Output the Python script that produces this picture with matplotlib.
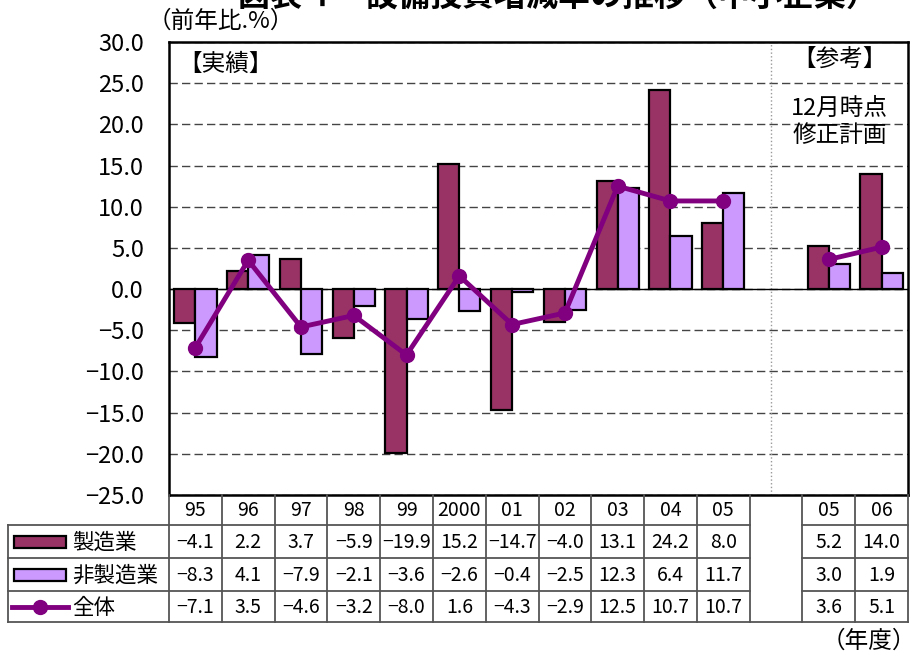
import matplotlib.pyplot as plt
import matplotlib.transforms as mtransforms
from matplotlib.lines import Line2D
from matplotlib.patches import Rectangle

plt.rcParams['font.family'] = ['Noto Sans CJK JP', 'DejaVu Sans']

# data
years_act = ["95", "96", "97", "98", "99", "2000", "01", "02", "03", "04", "05"]
years_ref = ["05", "06"]
mfg_act = [-4.1, 2.2, 3.7, -5.9, -19.9, 15.2, -14.7, -4.0, 13.1, 24.2, 8.0]
non_act = [-8.3, 4.1, -7.9, -2.1, -3.6, -2.6, -0.4, -2.5, 12.3, 6.4, 11.7]
all_act = [-7.1, 3.5, -4.6, -3.2, -8.0, 1.6, -4.3, -2.9, 12.5, 10.7, 10.7]
mfg_ref = [5.2, 14.0]
non_ref = [3.0, 1.9]
all_ref = [3.6, 5.1]
series_names = ["製造業", "非製造業", "全体"]

C_MFG = "#993366"
C_NON = "#CC99FF"
C_ALL = "#800080"

W, H = 916, 657
fig = plt.figure(figsize=(W / 100, H / 100), dpi=100)


def fx(px):
    return px / W


def fy(py):
    return 1 - py / H


ax = fig.add_axes([fx(169), fy(495), fx(908) - fx(169), fy(42) - fy(495)])

x_act = list(range(len(years_act)))
x_ref = [len(years_act) + 1 + i for i in range(len(years_ref))]
n_slots = x_ref[-1] + 1
bw = 0.4

for xs, m, n in [(x_act, mfg_act, non_act), (x_ref, mfg_ref, non_ref)]:
    ax.bar([x - 0.2 for x in xs], m, bw, color=C_MFG, edgecolor="black", lw=1.6, zorder=3)
    ax.bar([x + 0.2 for x in xs], n, bw, color=C_NON, edgecolor="black", lw=1.6, zorder=3)
ax.plot(x_act, all_act, color=C_ALL, lw=3.5, marker="o", ms=10, zorder=4)
ax.plot(x_ref, all_ref, color=C_ALL, lw=3.5, marker="o", ms=10, zorder=4)

ax.set_xlim(-0.5, n_slots - 0.5)
ax.set_ylim(-25, 30)
ax.set_yticks(range(-25, 31, 5))
ax.set_yticklabels([f"{v:.1f}".replace("-", "−") for v in range(-25, 31, 5)], fontsize=17)
ax.tick_params(axis="y", length=0, pad=18)
ax.set_xticks([])
ax.yaxis.grid(True, ls=(0, (6, 3)), color="#444444", lw=1)
ax.set_axisbelow(True)
ax.axhline(0, color="black", lw=1, zorder=2)
ax.axvline(10.9, color="#999999", ls=":", lw=1, zorder=1)
for s in ax.spines.values():
    s.set_linewidth(1.8)

ax.text(0.013, 0.975, "【実績】", transform=ax.transAxes, fontsize=17, va="top", ha="left")
ax.text(12.2, 29.3, "【参考】", fontsize=17, va="top", ha="center")
ax.text(12.2, 23.3, "12月時点\n修正計画", fontsize=17, va="top", ha="center", linespacing=1.2)

fig.text(fx(148), fy(21), "（前年比.%）", fontsize=17, va="center", ha="left")
fig.text(fx(558), fy(6), "図表４　設備投資増減率の推移（中小企業）", fontsize=23,
         fontweight="bold", va="baseline", ha="center")
fig.text(fx(916), fy(641), "（年度）", fontsize=17, va="center", ha="right")

# data table under the plot
tr = mtransforms.blended_transform_factory(ax.transData, fig.transFigure)
row_y = [495, 525, 558, 591, 622]
lc = "#555555"
lw = 1.3
left = -0.5
right = n_slots - 0.5
gap = len(years_act)


def hline(x0, x1, y, t=tr):
    fig.add_artist(Line2D([x0, x1], [fy(y), fy(y)], transform=t, color=lc, lw=lw))


def vline(x, y0, y1, t=tr):
    fig.add_artist(Line2D([x, x], [fy(y0), fy(y1)], transform=t, color=lc, lw=lw))


for y in row_y[1:4]:
    hline(left, gap - 0.5, y)
    hline(gap + 0.5, right, y)
hline(left, right, row_y[4])
for i in range(n_slots + 1):
    vline(i - 0.5, row_y[0], row_y[4])

# legend column
for y in row_y[1:]:
    hline(fx(8), fx(169), y, fig.transFigure)
vline(fx(8), row_y[1], row_y[4], fig.transFigure)

for i, lab in enumerate(years_act):
    fig.text(x_act[i], fy(511), lab, transform=tr, fontsize=14, ha="center", va="center")
for i, lab in enumerate(years_ref):
    fig.text(x_ref[i], fy(511), lab, transform=tr, fontsize=14, ha="center", va="center")

rows = [(mfg_act, mfg_ref), (non_act, non_ref), (all_act, all_ref)]
for r, (va_, vr_) in enumerate(rows):
    yc = fy((row_y[r + 1] + row_y[r + 2]) / 2 + 1)
    for x, v in zip(x_act + x_ref, va_ + vr_):
        fig.text(x, yc, f"{v:.1f}".replace("-", "−"), transform=tr, fontsize=14,
                 ha="center", va="center")
    fig.text(fx(72), yc, series_names[r], fontsize=15.5, ha="left", va="center")

for r, col in enumerate([C_MFG, C_NON]):
    yc = (row_y[r + 1] + row_y[r + 2]) / 2
    fig.add_artist(Rectangle((fx(14), fy(yc + 6)), fx(66) - fx(14), fy(yc - 6) - fy(yc + 6),
                             transform=fig.transFigure, facecolor=col, edgecolor="black", lw=1.6))
yc = (row_y[3] + row_y[4]) / 2
fig.add_artist(Line2D([fx(12), fx(68)], [fy(yc), fy(yc)], transform=fig.transFigure,
                      color=C_ALL, lw=3.5))
fig.add_artist(Line2D([fx(40)], [fy(yc)], transform=fig.transFigure, color=C_ALL,
                      marker="o", ms=10))

fig.savefig("out.png", dpi=100)
